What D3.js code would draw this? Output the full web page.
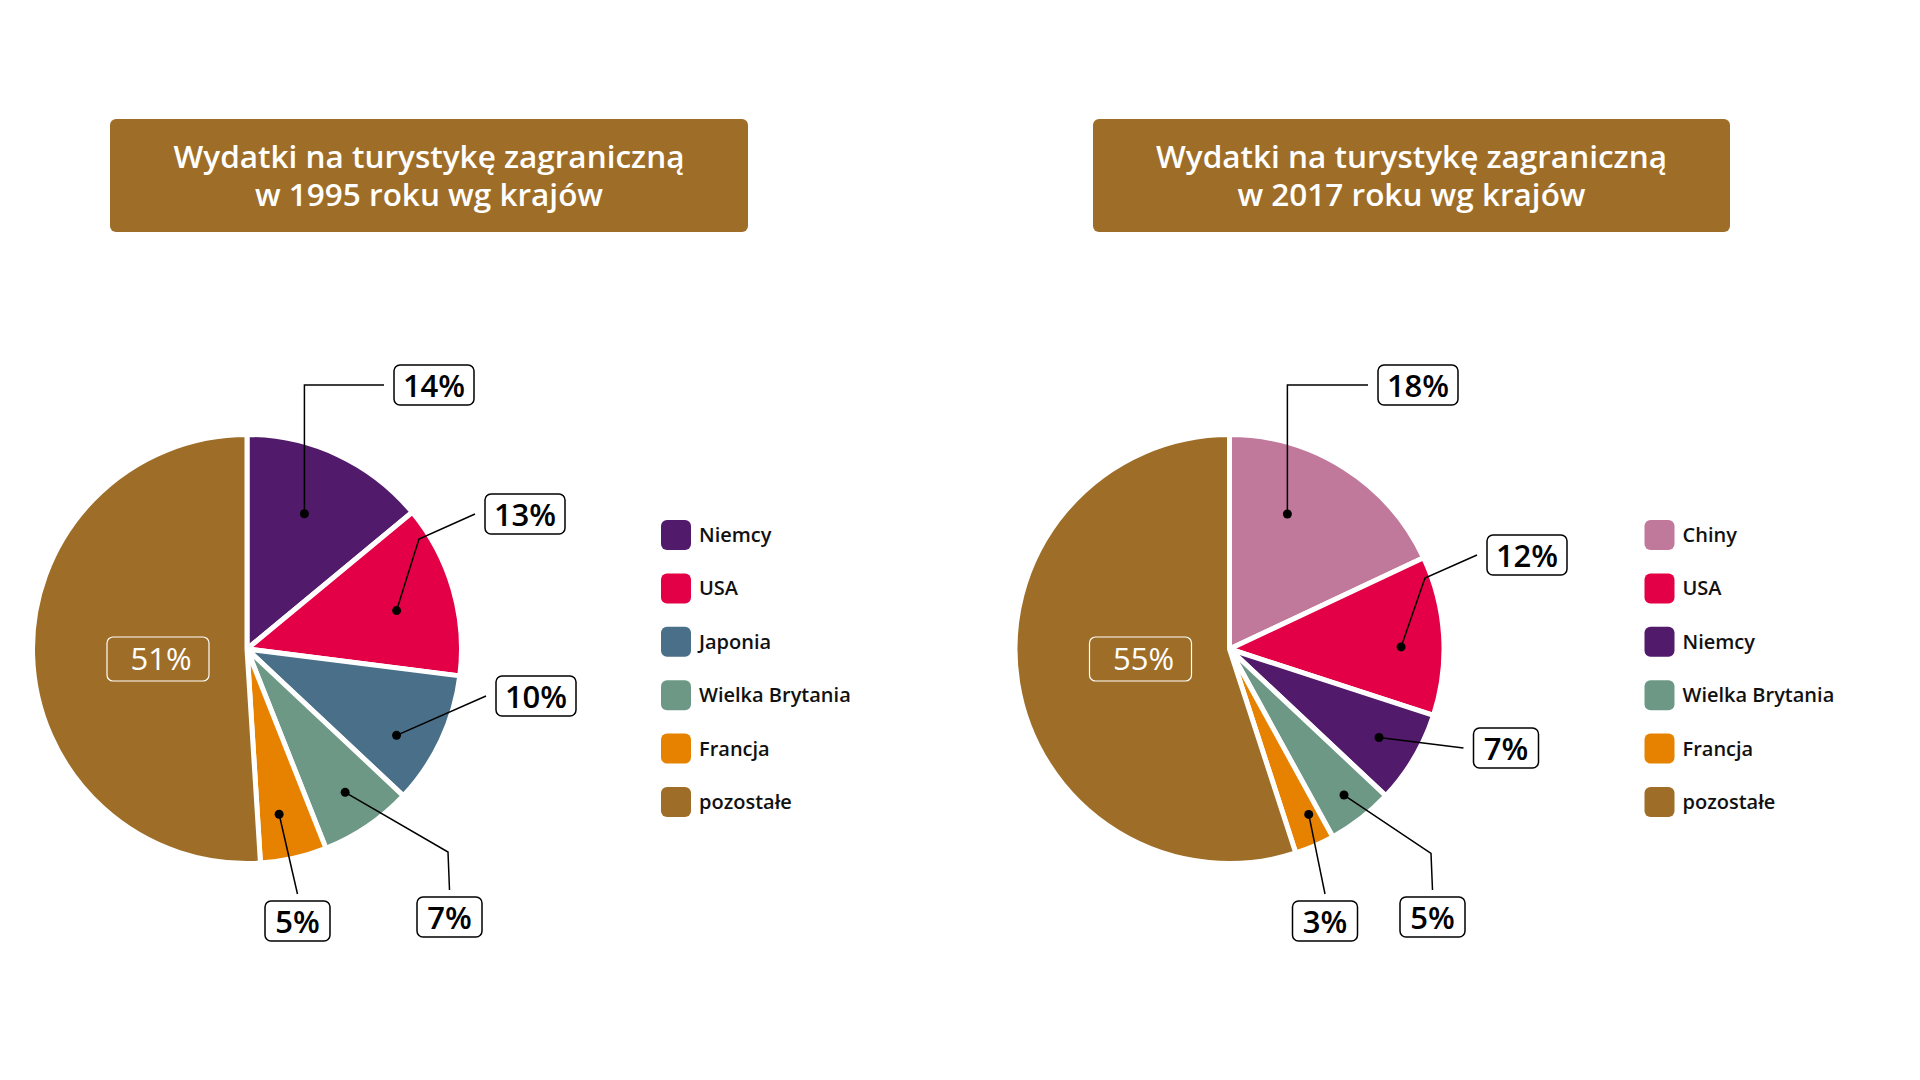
<!DOCTYPE html>
<html><head><meta charset="utf-8">
<script src="https://cdn.jsdelivr.net/npm/d3@7"></script>
<style>
html,body{margin:0;padding:0;background:#fff;}
svg{display:block;font-family:"Open Sans","Noto Sans",sans-serif;}
</style></head>
<body>
<svg id="chart" width="1920" height="1080"></svg>
<script>
// ---- data ----
const title1995 = ["Wydatki na turystykę zagraniczną", "w 1995 roku wg krajów"];
const categories1995 = ["Niemcy", "USA", "Japonia", "Wielka Brytania", "Francja", "pozostałe"];
const values1995 = [14, 13, 10, 7, 5, 51];

const title2017 = ["Wydatki na turystykę zagraniczną", "w 2017 roku wg krajów"];
const categories2017 = ["Chiny", "USA", "Niemcy", "Wielka Brytania", "Francja", "pozostałe"];
const values2017 = [18, 12, 7, 5, 3, 55];

const colorDomain = ["Niemcy", "USA", "Japonia", "Wielka Brytania", "Francja", "pozostałe", "Chiny"];
const colorRange = ["#521a6a", "#e30046", "#4a7089", "#6e9886", "#e68200", "#9e6e28", "#c0799b"];

// ---- layout (positions only) ----
const layout = [
  { titleBox: [110, 119, 638, 113], center: [247, 649], legendX: 661,
    labels: [
      { dA: -2.2, k: 0.685, box: [187, -264], elbow: "vh", attach: "left" },
      { dA: 1.8, k: 0.72, box: [278, -135], elbow: [172, -110], attach: "left" },
      { dA: 4.8, k: 0.805, box: [289, 47], elbow: null, attach: "left" },
      { dA: -0.2, k: 0.81, box: [202.5, 268], elbow: [201, 203], attach: "top" },
      { dA: 1.6, k: 0.785, box: [50.5, 272], elbow: null, attach: "top" }
    ] },
  { titleBox: [1093, 119, 637, 113], center: [1229.5, 649], legendX: 1644.5,
    labels: [
      { dA: -9.2, k: 0.685, box: [188.5, -264], elbow: "vh", attach: "left" },
      { dA: 2.9, k: 0.8, box: [297.5, -94], elbow: [195.5, -71], attach: "left" },
      { dA: 0, k: 0.81, box: [276.5, 99], elbow: null, attach: "left" },
      { dA: -0.3, k: 0.865, box: [203, 268], elbow: [201.5, 204.5], attach: "top" },
      { dA: -2.2, k: 0.855, box: [95.5, 272], elbow: null, attach: "top" }
    ] }
];

const color = d3.scaleOrdinal().domain(colorDomain).range(colorRange);
const svg = d3.select("#chart");
const R = 214.5;

function drawChart(titleLines, cats, vals, L) {
  const g = svg.append("g");
  // title box
  const [tx, ty, tw, th] = L.titleBox;
  g.append("rect").attr("x", tx).attr("y", ty).attr("width", tw).attr("height", th)
    .attr("rx", 6).attr("fill", "#9e6e28");
  g.selectAll("text.title").data(titleLines).join("text")
    .attr("class", "title")
    .attr("x", tx + tw / 2).attr("y", (d, i) => ty + 49 + i * 38)
    .attr("text-anchor", "middle").attr("fill", "#fff")
    .attr("font-size", 31.5).attr("font-weight", 600)
    .text(d => d);

  const data = cats.map((c, i) => ({ name: c, value: vals[i] }));
  const pie = d3.pie().value(d => d.value).sort(null);
  const arcs = pie(data);
  const arc = d3.arc().innerRadius(0).outerRadius(R);
  const [cx, cy] = L.center;
  const pg = g.append("g").attr("transform", `translate(${cx},${cy})`);
  pg.selectAll("path").data(arcs).join("path")
    .attr("d", arc).attr("fill", d => color(d.data.name))
    .attr("stroke", "#fff").attr("stroke-width", 5).attr("stroke-linejoin", "round");

  // big label (last slice)
  const last = arcs[arcs.length - 1];
  const bl = pg.append("g").attr("transform", "translate(-89,10)");
  bl.append("rect").attr("x", -51).attr("y", -22).attr("width", 102).attr("height", 44)
    .attr("rx", 6).attr("fill", "none").attr("stroke", "#fff").attr("stroke-width", 1.2);
  bl.append("text").attr("x", 3).attr("y", 11).attr("text-anchor", "middle")
    .attr("fill", "#fff").attr("font-size", 31).attr("font-weight", 500)
    .text(last.data.value + "%");

  // callout labels
  arcs.slice(0, -1).forEach((a, i) => {
    const lab = L.labels[i];
    const mid = (a.startAngle + a.endAngle) / 2 + lab.dA * Math.PI / 180;
    const r = R * lab.k;
    const dot = [Math.sin(mid) * r, -Math.cos(mid) * r];
    const txt = a.data.value + "%";
    const bw = txt.length > 2 ? 80 : 65, bh = 40;
    const [bx, by] = lab.box;
    const attachPt = lab.attach === "left" ? [bx - bw / 2 - 10, by] : [bx, by - bh / 2 - 7];
    const pts = [attachPt];
    if (lab.elbow === "vh") pts.push([dot[0], by]);
    else if (lab.elbow) pts.push(lab.elbow);
    pts.push(dot);
    pg.append("path").attr("d", d3.line()(pts)).attr("fill", "none")
      .attr("stroke", "#000").attr("stroke-width", 1.5);
    pg.append("circle").attr("cx", dot[0]).attr("cy", dot[1]).attr("r", 4.5).attr("fill", "#000");
    pg.append("rect").attr("x", bx - bw / 2).attr("y", by - bh / 2).attr("width", bw).attr("height", bh)
      .attr("rx", 6).attr("fill", "#fff").attr("stroke", "#000").attr("stroke-width", 1.5);
    pg.append("text").attr("x", bx).attr("y", by + 11.5).attr("text-anchor", "middle")
      .attr("fill", "#000").attr("font-size", 31).attr("font-weight", 600).text(txt);
  });

  // legend
  const lg = g.append("g");
  const y0 = 535, step = 53.4;
  const rows = lg.selectAll("g").data(cats).join("g")
    .attr("transform", (d, i) => `translate(${L.legendX},${y0 + i * step})`);
  rows.append("rect").attr("x", 0).attr("y", -15).attr("width", 30).attr("height", 30)
    .attr("rx", 6).attr("fill", d => color(d));
  rows.append("text").attr("x", 38).attr("y", 7).attr("font-size", 20).attr("font-weight", 600)
    .attr("fill", "#111").text(d => d);
}

drawChart(title1995, categories1995, values1995, layout[0]);
drawChart(title2017, categories2017, values2017, layout[1]);
</script>
</body></html>
